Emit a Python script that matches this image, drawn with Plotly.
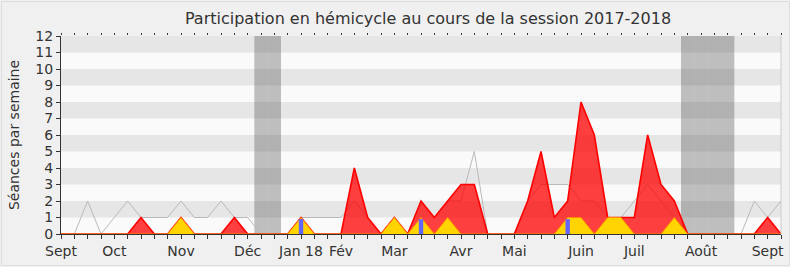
import plotly.graph_objects as go

# Weekly data (week index 0..54, session 2017-2018)
weeks = list(range(55))
median_deputes = [0, 0, 2, 0, 1, 2, 1, 1, 1, 2, 1, 1, 2, 1, 1, 0, 0, 0, 1, 1,
                  1, 1, 2, 1, 0, 1, 0, 2, 1, 2, 2, 5, 0, 0, 0, 2, 3, 3, 3, 2,
                  2, 1, 1, 2, 3, 2, 1, 0, 0, 0, 0, 0, 2, 1, 2]
presences = [0, 0, 0, 0, 0, 0, 1, 0, 0, 1, 0, 0, 0, 1, 0, 0, 0, 0, 1, 0,
             0, 0, 4, 1, 0, 1, 0, 2, 1, 2, 3, 3, 0, 0, 0, 2, 5, 1, 2, 8,
             6, 1, 1, 1, 6, 3, 2, 0, 0, 0, 0, 0, 0, 1, 0]
interventions = [0, 0, 0, 0, 0, 0, 0, 0, 0, 1, 0, 0, 0, 0, 0, 0, 0, 0, 1, 0,
                 0, 0, 0, 0, 0, 1, 0, 1, 0, 1, 0, 0, 0, 0, 0, 0, 0, 0, 1, 1,
                 0, 1, 1, 0, 0, 0, 1, 0, 0, 0, 0, 0, 0, 0, 0]
question_weeks = [18, 27, 38]
question_values = [0.9, 0.9, 0.9]
vacation_weeks = [15, 16, 47, 48, 49, 50]
month_weeks = [0, 4, 9, 14, 18, 21, 25, 30, 34, 39, 43, 48, 53]
month_labels = ["Sept", "Oct", "Nov", "Déc", "Jan 18", "Fév", "Mar", "Avr",
                "Mai", "Juin", "Juil", "Août", "Sept"]
y_ticks = list(range(13))

FONT = "DejaVu Sans"
TXT = "#333333"

fig = go.Figure()

# vacation periods
fig.add_trace(go.Bar(x=vacation_weeks, y=[12] * len(vacation_weeks), width=1,
                     marker=dict(color="rgba(76,76,76,0.35)", line=dict(width=0)),
                     hoverinfo="skip", showlegend=False))
# median line
fig.add_trace(go.Scatter(x=weeks, y=median_deputes, mode="lines",
                         line=dict(color="rgb(185,185,185)", width=1),
                         showlegend=False))
# presences
fig.add_trace(go.Scatter(x=weeks, y=presences, mode="lines", fill="tozeroy",
                         fillcolor="rgba(255,0,0,0.75)",
                         line=dict(color="rgb(255,0,0)", width=1.6),
                         showlegend=False))
# interventions
fig.add_trace(go.Scatter(x=weeks, y=interventions, mode="lines", fill="tozeroy",
                         fillcolor="rgb(255,212,0)",
                         line=dict(color="rgb(255,140,0)", width=1),
                         showlegend=False))
# questions (on overlay axis so they draw above the filled areas)
fig.add_trace(go.Bar(x=question_weeks, y=question_values, width=0.33,
                     xaxis="x2", yaxis="y",
                     marker=dict(color="rgb(100,100,255)", line=dict(width=0)),
                     showlegend=False))

shapes = []
for k in range(1, 12, 2):
    shapes.append(dict(type="rect", xref="paper", yref="y", x0=0, x1=1,
                       y0=k, y1=k + 1, fillcolor="#e6e6e6", line=dict(width=0),
                       layer="below"))
# right border of plot
shapes.append(dict(type="line", xref="paper", yref="paper", x0=1, x1=1, y0=0, y1=1,
                   line=dict(color="#cccccc", width=1)))
# outer frame
shapes.append(dict(type="rect", xref="paper", yref="paper",
                   x0=-59.5 / 720, x1=(790 - 61.5) / 720,
                   y0=-31.5 / 198, y1=(267 - 34.5 + 1) / 198 - 0.005,
                   line=dict(color="#dddddd", width=1), layer="below"))

fig.update_layout(
    width=790, height=267,
    margin=dict(l=61, r=9, t=36, b=33, autoexpand=False),
    paper_bgcolor="#f0f0f0", plot_bgcolor="#fafafa",
    barmode="overlay",
    font=dict(family=FONT, color=TXT, size=14),
    title=dict(text="Participation en hémicycle au cours de la session 2017-2018",
               x=0.5 + 7 / 720, xref="paper", xanchor="center",
               y=1 - 18 / 267, yref="container", yanchor="middle",
               font=dict(family=FONT, size=16, color=TXT)),
    shapes=shapes,
    xaxis=dict(range=[0, 54], tickmode="array", tickvals=month_weeks,
               ticktext=month_labels, ticks="outside", ticklen=4, tickcolor="#333",
               showgrid=False, zeroline=False, showline=True, linecolor="#333",
               linewidth=1, tickfont=dict(size=14, color=TXT), automargin=False,
               minor=dict(ticks="outside", ticklen=4, dtick=1, tick0=0,
                          tickcolor="#333", showgrid=False)),
    xaxis2=dict(range=[0, 54], overlaying="x", side="top", anchor="y",
                matches="x", showticklabels=False, ticks="outside", ticklen=2,
                tickcolor="#333", dtick=1, tick0=0, tickmode="linear",
                automargin=False,
                showgrid=False, zeroline=False, showline=False),
    yaxis=dict(range=[0, 12], tickmode="array", tickvals=y_ticks,
               ticks="outside", ticklen=4, tickcolor="#333", automargin=False,
               showgrid=False, zeroline=False, showline=True, linecolor="#333",
               linewidth=1, tickfont=dict(size=14, color=TXT),
               title=dict(text="Séances par semaine", standoff=12,
                          font=dict(size=14, color=TXT))),
)

fig.write_html("out.html")
